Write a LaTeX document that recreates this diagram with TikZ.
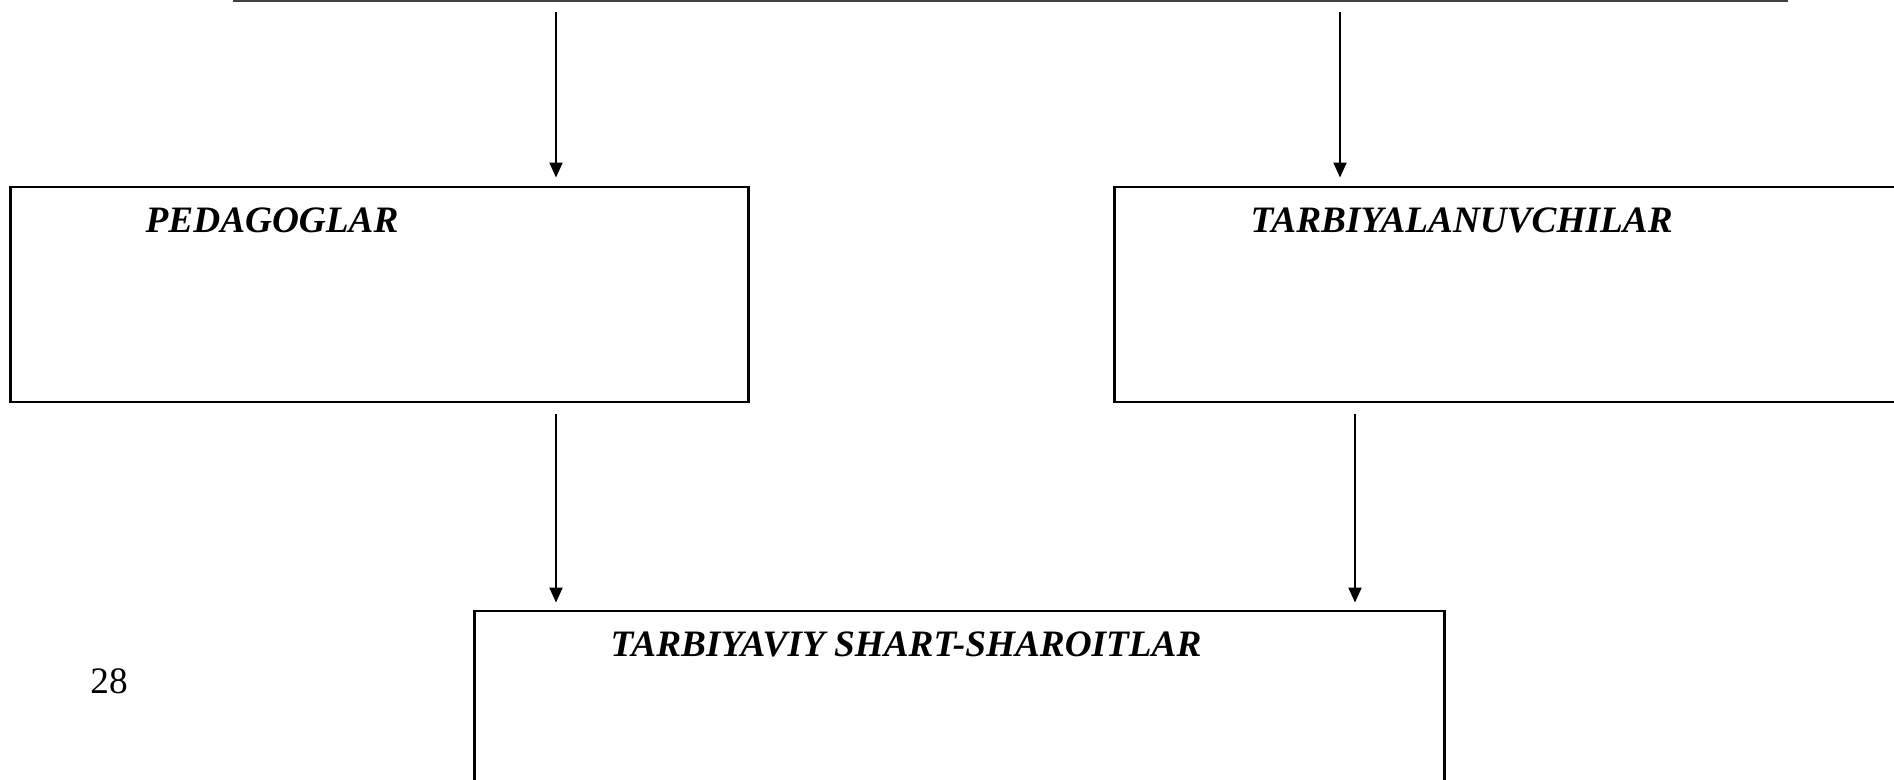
\documentclass[tikz,border=0pt]{standalone}
\usepackage{fontspec}
\setmainfont{Liberation Serif}
\usetikzlibrary{arrows.meta, positioning}

\begin{document}
\begin{tikzpicture}[x=0.01cm, y=-0.01cm, >={Triangle[width=0.13cm,length=0.15cm]},
    box/.style={draw, rectangle, line width=0.8pt, inner sep=0pt},
    title/.style={font=\fontsize{10.6}{12}\selectfont\bfseries\itshape, inner sep=0pt}]

    \useasboundingbox (0,0) rectangle (1894,780);

    	% Define nodes
	    \node (ped) [box, minimum width=7.37cm, minimum height=2.15cm] at (379.5,294.5) {};
    	\node (tarb) [box, minimum width=7.9cm, minimum height=2.15cm] at (1510,294.5) {};
	    \node (shart) [box, minimum width=9.69cm, minimum height=1.89cm] at (959.5,705.5) {};

	    \node (pedt) [title, anchor=base west] at (145,233) {PEDAGOGLAR};
	    \node (tarbt) [title, anchor=base west] at (1250,233) {TARBIYALANUVCHILAR};
	    \node (shartt) [title, anchor=base west] at (610,657) {TARBIYAVIY SHART-SHAROITLAR};
	    \node (page) [inner sep=0pt, font=\fontsize{10.6}{12}\selectfont] at (109,681) {28};

	    % Top line
	    \coordinate (lineL) at (233,1);
	    \coordinate (lineR) at (1788,1);
	    \draw[line width=0.8pt, black!75] (lineL) -- (lineR);

	    \coordinate (p1) at (556,12);
	    \coordinate (p2) at (1340,12);
	    \coordinate (q1) at (556,402);
	    \coordinate (q2) at (1355,402);

	    % Draw arrows
    	\draw[->, line width=0.6pt, shorten >=0.08cm] (p1) -- (p1 |- ped.north);
	    \draw[->, line width=0.6pt, shorten >=0.08cm] (p2) -- (p2 |- tarb.north);
    	\draw[->, line width=0.6pt, shorten <=0.12cm, shorten >=0.07cm] (q1) -- (q1 |- shart.north);
    	\draw[->, line width=0.6pt, shorten <=0.12cm, shorten >=0.07cm] (q2) -- (q2 |- shart.north);

	\end{tikzpicture}
\end{document}
